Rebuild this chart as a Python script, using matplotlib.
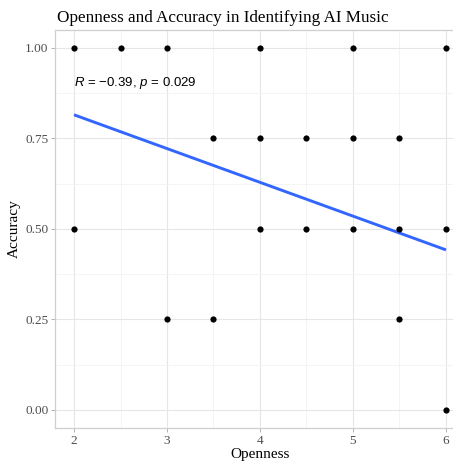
import numpy as np
import matplotlib
matplotlib.use("Agg")
from matplotlib import pyplot as plt
from matplotlib.ticker import MultipleLocator

# data
openness = [2, 2.5, 3, 4, 5, 6,
            3.5, 4, 4.5, 5, 5.5,
            2, 4, 4.5, 5, 5.5, 6,
            3, 3.5, 5.5,
            6]
accuracy = [1.00, 1.00, 1.00, 1.00, 1.00, 1.00,
            0.75, 0.75, 0.75, 0.75, 0.75,
            0.50, 0.50, 0.50, 0.50, 0.50, 0.50,
            0.25, 0.25, 0.25,
            0.00]
# linear fit as drawn (intercept, slope)
fit_coef = [1.002, -0.0933]
fit_range = [2, 6]
cor_label = r"$\it{R}$ = $-$0.39, $\it{p}$ = 0.029"

plt.rcParams['mathtext.fontset'] = 'custom'
plt.rcParams['mathtext.rm'] = 'Liberation Sans'
plt.rcParams['mathtext.it'] = 'Liberation Sans:italic'

fig = plt.figure(figsize=(4.53, 4.61), dpi=100)
ax = fig.add_axes([0.1223, 0.0714, 0.9033, 0.8638])

ax.set_xlim(1.8, 6.2)
ax.set_ylim(-0.05, 1.05)
ax.xaxis.set_major_locator(MultipleLocator(1))
ax.xaxis.set_minor_locator(MultipleLocator(0.5))
ax.yaxis.set_major_locator(MultipleLocator(0.25))
ax.yaxis.set_minor_locator(MultipleLocator(0.125))
ax.yaxis.set_major_formatter(plt.FuncFormatter(lambda v, p: "%.2f" % v))

ax.grid(which='major', color='#E6E6E6', linewidth=0.8)
ax.grid(which='minor', color='#F3F3F3', linewidth=0.6)
ax.set_axisbelow(True)
for s in ax.spines.values():
    s.set_color('#CFCFCF')
    s.set_linewidth(0.9)

ax.tick_params(which='major', length=3, width=0.7, color='#B3B3B3',
               labelcolor='#4D4D4D', labelsize=9.5, pad=2)
ax.tick_params(which='minor', length=0)
for lab in ax.get_xticklabels() + ax.get_yticklabels():
    lab.set_family('Liberation Serif')

xs = np.array(fit_range)
ax.plot(xs, fit_coef[0] + fit_coef[1] * xs, color='#3366FF', linewidth=2.1,
        solid_capstyle='butt', zorder=2)
ax.scatter(openness, accuracy, s=20, color='black', zorder=3, linewidths=0)

ax.text(2, 0.903, cor_label, fontsize=9.5, family='Liberation Sans',
        ha='left', va='center')

ax.set_xlabel('Openness', family='Liberation Serif', fontsize=11, labelpad=1)
ax.set_ylabel('Accuracy', family='Liberation Serif', fontsize=11, labelpad=3)
fig.text(57 / 453, 1 - 22 / 461, 'Openness and Accuracy in Identifying AI Music',
         family='Liberation Serif', fontsize=12.3, ha='left', va='baseline')

fig.savefig('out.png', dpi=100)
